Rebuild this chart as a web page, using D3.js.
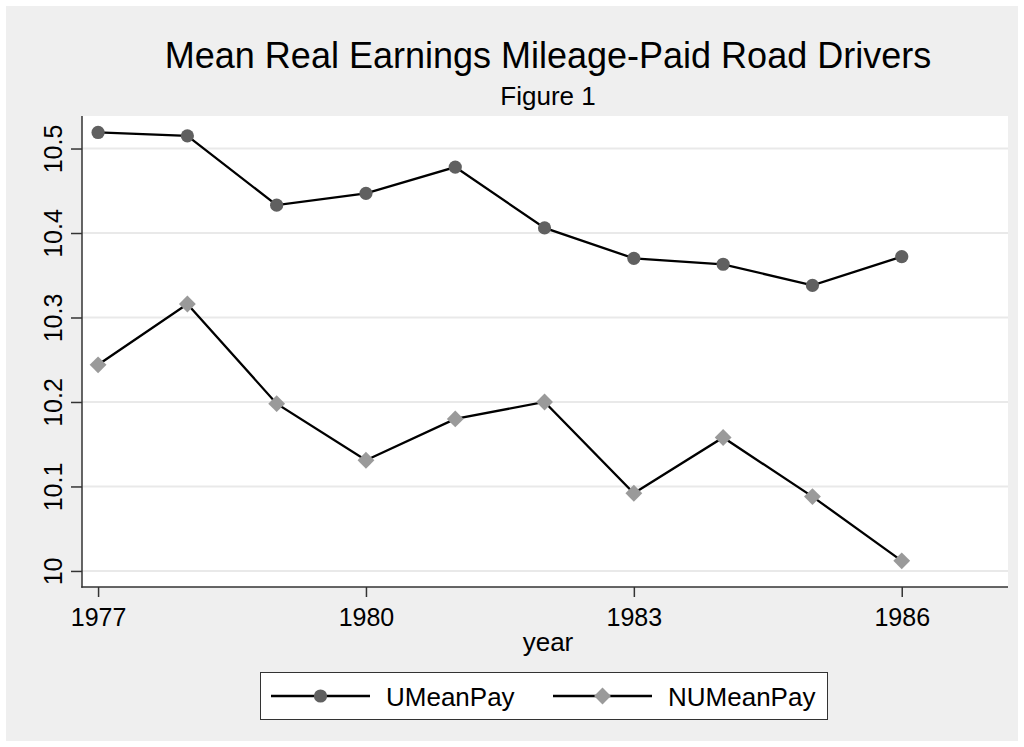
<!DOCTYPE html>
<html>
<head>
<meta charset="utf-8">
<script src="https://cdn.jsdelivr.net/npm/d3@7"></script>
<style>
  body { margin: 0; background: #ffffff; }
  text { font-family: Arial, "Liberation Sans", sans-serif; fill: #000; }
</style>
</head>
<body>
<div class="chart"></div>
<script>
const years = [1977, 1978, 1979, 1980, 1981, 1982, 1983, 1984, 1985, 1986];
const uMeanPay = [10.519, 10.515, 10.433, 10.447, 10.478, 10.406, 10.370, 10.363, 10.338, 10.372];
const nuMeanPay = [10.244, 10.316, 10.198, 10.131, 10.180, 10.200, 10.092, 10.158, 10.088, 10.012];
const yTicks = [10, 10.1, 10.2, 10.3, 10.4, 10.5];
const yTickLabels = ["10", "10.1", "10.2", "10.3", "10.4", "10.5"];
const xTicks = [1977, 1980, 1983, 1986];
const seriesNames = ["UMeanPay", "NUMeanPay"];

const width = 1024;
const height = 747;

// plot region (white box)
const plotLeft = 82, plotRight = 1008, plotTop = 116, plotBottom = 587;

const svg = d3.select(".chart")
    .append("svg")
    .attr("width", width)
    .attr("height", height);

// outer graph background
svg.append("rect")
    .attr("x", 6).attr("y", 6)
    .attr("width", width - 12).attr("height", height - 12)
    .style("fill", "#efefef");

svg.append("rect")
    .attr("x", plotLeft).attr("y", plotTop)
    .attr("width", plotRight - plotLeft).attr("height", plotBottom - plotTop)
    .style("fill", "#ffffff");

const x = d3.scaleLinear()
    .domain([1976.82, 1987.19])
    .range([plotLeft, plotRight]);

const y = d3.scaleLinear()
    .domain([9.981, 10.5385])
    .range([plotBottom, plotTop]);

// gridlines
svg.selectAll(".grid")
    .data(yTicks)
    .enter()
    .append("line")
    .attr("class", "grid")
    .attr("x1", plotLeft).attr("x2", plotRight)
    .attr("y1", d => y(d)).attr("y2", d => y(d))
    .style("stroke", "#e9e9e9")
    .style("stroke-width", 2);

// y axis
const yAxis = svg.append("g")
    .attr("transform", "translate(" + plotLeft + ",0)")
    .call(d3.axisLeft(y).tickValues(yTicks).tickSize(11).tickSizeOuter(0).tickFormat((d, i) => yTickLabels[i]));

yAxis.select(".domain").remove();
yAxis.selectAll(".tick line").style("stroke", "#333").style("stroke-width", 1.5);
yAxis.selectAll(".tick text")
    .attr("x", null).attr("dy", null)
    .attr("transform", "translate(-20,0) rotate(-90)")
    .style("text-anchor", "middle")
    .style("font-size", "25px")
    .style("fill", "#000");

svg.append("line")
    .attr("x1", plotLeft).attr("x2", plotLeft)
    .attr("y1", plotTop).attr("y2", plotBottom + 0.75)
    .style("stroke", "#333").style("stroke-width", 1.5);

// x axis
const xAxis = svg.append("g")
    .attr("transform", "translate(0," + plotBottom + ")")
    .call(d3.axisBottom(x).tickValues(xTicks).tickSize(10).tickSizeOuter(0).tickFormat(d3.format("d")));

xAxis.select(".domain").remove();
xAxis.selectAll(".tick line").style("stroke", "#333").style("stroke-width", 1.5);
xAxis.selectAll(".tick text")
    .attr("y", 39).attr("dy", null)
    .style("font-size", "25px")
    .style("fill", "#000");

svg.append("line")
    .attr("x1", plotLeft - 0.75).attr("x2", plotRight)
    .attr("y1", plotBottom).attr("y2", plotBottom)
    .style("stroke", "#333").style("stroke-width", 1.5);

// titles
const midX = (plotLeft + plotRight) / 2 + 3;

svg.append("text")
    .attr("x", midX).attr("y", 68)
    .style("text-anchor", "middle")
    .style("font-size", "36px")
    .text("Mean Real Earnings Mileage-Paid Road Drivers");

svg.append("text")
    .attr("x", midX).attr("y", 105)
    .style("text-anchor", "middle")
    .style("font-size", "26px")
    .text("Figure 1");

svg.append("text")
    .attr("x", midX).attr("y", 651)
    .style("text-anchor", "middle")
    .style("font-size", "26px")
    .text("year");

// series
const series = [
  { name: seriesNames[0], values: uMeanPay, shape: d3.symbolCircle, size: Math.PI * 6.6 * 6.6, fill: "#606060" },
  { name: seriesNames[1], values: nuMeanPay, shape: d3.symbolDiamond2, size: 2 * 9.5 * 9.5, fill: "#9a9a9a" }
];

const line = d3.line()
    .x((d, i) => x(years[i]))
    .y(d => y(d));

series.forEach(function(s) {
  svg.append("path")
      .datum(s.values)
      .attr("d", line)
      .style("fill", "none")
      .style("stroke", "#000")
      .style("stroke-width", 2.3);

  svg.selectAll(".pt-" + s.name)
      .data(s.values)
      .enter()
      .append("path")
      .attr("class", "pt-" + s.name)
      .attr("d", d3.symbol().type(s.shape).size(s.size))
      .attr("transform", (d, i) => "translate(" + x(years[i]) + "," + y(d) + ")")
      .style("fill", s.fill);
});

// legend
const legend = svg.append("g");

legend.append("rect")
    .attr("x", 260.5).attr("y", 672.5)
    .attr("width", 567).attr("height", 47)
    .style("fill", "#ffffff")
    .style("stroke", "#333")
    .style("stroke-width", 1);

const legendItemX = [271, 553]; // left end of each key line

const items = legend.selectAll(".key")
    .data(series)
    .enter()
    .append("g")
    .attr("class", "key")
    .attr("transform", (d, i) => "translate(" + legendItemX[i] + ",696)");

items.append("line")
    .attr("x1", 0).attr("x2", 99)
    .attr("y1", 0).attr("y2", 0)
    .style("stroke", "#000")
    .style("stroke-width", 2.3);

items.append("path")
    .attr("d", d => d3.symbol().type(d.shape).size(d.size)())
    .attr("transform", "translate(49.5,0)")
    .style("fill", d => d.fill);

items.append("text")
    .attr("x", 115).attr("y", 10)
    .style("font-size", "26px")
    .text(d => d.name);
</script>
</body>
</html>
